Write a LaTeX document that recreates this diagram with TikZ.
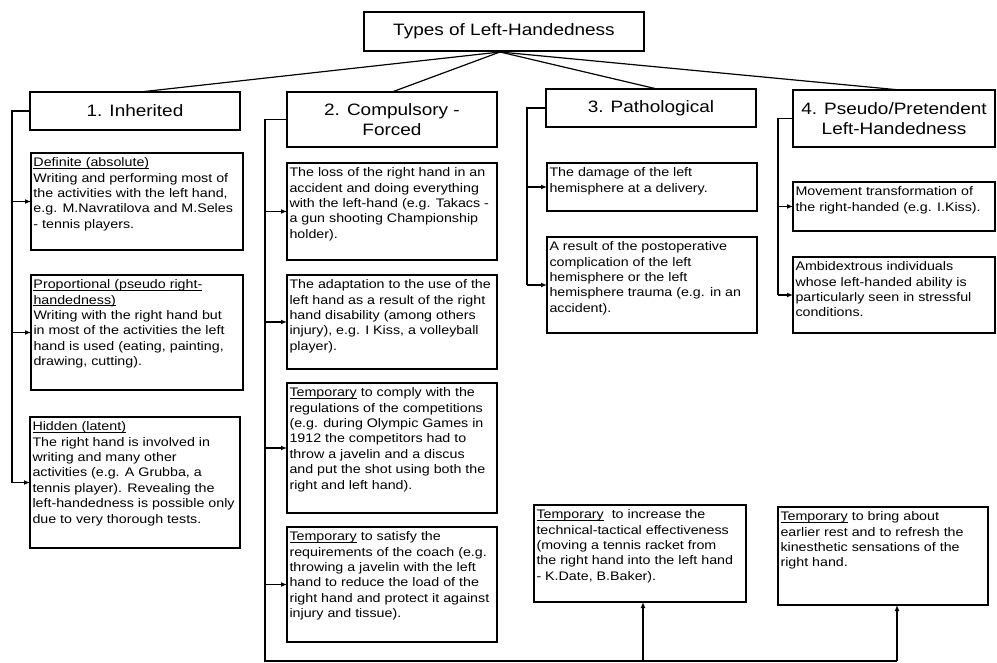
\documentclass[tikz,border=0pt]{standalone}
\usepackage{fontspec}
\setmainfont[FakeStretch=1.15]{Liberation Sans}
\usetikzlibrary{arrows.meta}
\tikzset{
  tb/.style={draw, line width=1.4pt, inner xsep=2.5pt, inner ysep=3pt, outer sep=0pt, font=\fontsize{12.4}{15.4}\selectfont},
  hb/.style={draw, line width=1.4pt, inner sep=2pt, outer sep=0pt, align=center, font=\fontsize{16.5}{20}\selectfont},
  conn/.style={line width=1.2pt},
  arr/.style={line width=1.2pt, -{Latex[length=6pt,width=5pt]}},
}
\newcommand\tbox[6]{\node[tb, anchor=north west] (#1) at (#2,-#3) {\parbox[c][\dimexpr#5pt-6pt\relax][t]{\dimexpr#4pt-5pt\relax}{\raggedright\strut #6}};}
\newcommand\ul[1]{\leavevmode{\setbox0\hbox{#1}\rlap{\rule[-1.6pt]{\wd0}{0.6pt}}\box0}}
\begin{document}
\begin{tikzpicture}[x=1pt,y=1pt]
\useasboundingbox (0,0) rectangle (997,-663);
% title and headers
\node[hb, minimum width=280, minimum height=39, anchor=north west] (title) at (364,-12) {Types of Left-Handedness};
\node[hb, minimum width=210, minimum height=38, anchor=north west] (h1) at (30,-92) {1. Inherited};
\node[hb, minimum width=210, minimum height=55, anchor=north west] (h2) at (287,-92) {2. Compulsory -\\Forced};
\node[hb, minimum width=210, minimum height=38, anchor=north west] (h3) at (546,-89) {3. Pathological};
\node[hb, minimum width=202, minimum height=57, anchor=north west] (h4) at (793,-90) {4. Pseudo/Pretendent\\Left-Handedness};
% column 1
\tbox{a1}{31}{153}{212}{97}{\ul{Definite (absolute)}\\Writing and performing most of\\the activities with the left hand,\\e.g. M.Navratilova and M.Seles\\- tennis players.}
\tbox{a2}{31}{275}{212}{115}{\ul{Proportional (pseudo right-}\\\ul{handedness)}\\Writing with the right hand but\\in most of the activities the left\\hand is used (eating, painting,\\drawing, cutting).}
\tbox{a3}{30}{417}{210}{131}{\ul{Hidden (latent)}\\The right hand is involved in\\writing and many other\\activities (e.g. A Grubba, a\\tennis player). Revealing the\\left-handedness is possible only\\due to very thorough tests.}
% column 2
\tbox{b1}{287}{163}{210}{97}{The loss of the right hand in an\\accident and doing everything\\with the left-hand (e.g. Takacs -\\a gun shooting Championship\\holder).}
\tbox{b2}{287}{275}{210}{94}{The adaptation to the use of the\\left hand as a result of the right\\hand disability (among others\\injury), e.g. I Kiss, a volleyball\\player).}
\tbox{b3}{287}{383}{210}{130}{\ul{Temporary} to comply with the\\regulations of the competitions\\(e.g. during Olympic Games in\\1912 the competitors had to\\throw a javelin and a discus\\and put the shot using both the\\right and left hand).}
\tbox{b4}{287}{527}{210}{115}{\ul{Temporary} to satisfy the\\requirements of the coach (e.g.\\throwing a javelin with the left\\hand to reduce the load of the\\right hand and protect it against\\injury and tissue).}
% column 3
\tbox{c1}{547}{163}{210}{48}{The damage of the left\\hemisphere at a delivery.}
\tbox{c2}{547}{237}{210}{96}{A result of the postoperative\\complication of the left\\hemisphere or the left\\hemisphere trauma (e.g. in an\\accident).}
% column 4
\tbox{d1}{793}{182}{202}{49}{Movement transformation of\\the right-handed (e.g. I.Kiss).}
\tbox{d2}{793}{257}{202}{76}{Ambidextrous individuals\\whose left-handed ability is\\particularly seen in stressful\\conditions.}
% bottom
\tbox{e1}{534}{505}{212}{97}{\ul{Temporary}\ \ to increase the\\technical-tactical effectiveness\\(moving a tennis racket from\\the right hand into the left hand\\- K.Date, B.Baker).}
\tbox{e2}{778}{507}{210}{98}{\ul{Temporary} to bring about\\earlier rest and to refresh the\\kinesthetic sensations of the\\right hand.}
% title connectors
\coordinate (ts) at (500,-52);
\draw[conn] (ts) -- ([xshift=5pt]h1.north);
\draw[conn] (ts) -- (h2.north);
\draw[conn] (ts) -- ([xshift=6pt]h3.north);
\draw[conn] (ts) -- ([xshift=6pt]h4.north);
% column 1 connectors
\coordinate (v1) at (12,0);
\draw[conn] (h1.west) -- (h1.west -| v1) -- (a3.west -| v1);
\draw[arr] (a1.west -| v1) -- (a1.west);
\draw[arr] (a2.west -| v1) -- (a2.west);
\draw[arr] (a3.west -| v1) -- (a3.west);
% column 2 connectors
\coordinate (v2) at (265,0);
\coordinate (bl) at (265,-661);
\coordinate (br1) at (643,-661);
\coordinate (br2) at (897,-661);
\draw[conn] (h2.west) -- (h2.west -| v2) -- (bl) -- (br2);
\draw[arr] (b1.west -| v2) -- (b1.west);
\draw[arr] (b2.west -| v2) -- (b2.west);
\draw[arr] (b3.west -| v2) -- (b3.west);
\draw[arr] (b4.west -| v2) -- (b4.west);
\draw[arr] (br1) -- (br1 |- e1.south);
\draw[arr] (br2) -- (br2 |- e2.south);
% column 3 connectors
\coordinate (v3) at (527,0);
\draw[conn] (h3.west) -- (h3.west -| v3) -- (c2.west -| v3);
\draw[arr] (c1.west -| v3) -- (c1.west);
\draw[arr] (c2.west -| v3) -- (c2.west);
% column 4 connectors
\coordinate (v4) at (778,0);
\draw[conn] (h4.west) -- (h4.west -| v4) -- (d2.west -| v4);
\draw[arr] (d1.west -| v4) -- (d1.west);
\draw[arr] (d2.west -| v4) -- (d2.west);
\end{tikzpicture}
\end{document}
